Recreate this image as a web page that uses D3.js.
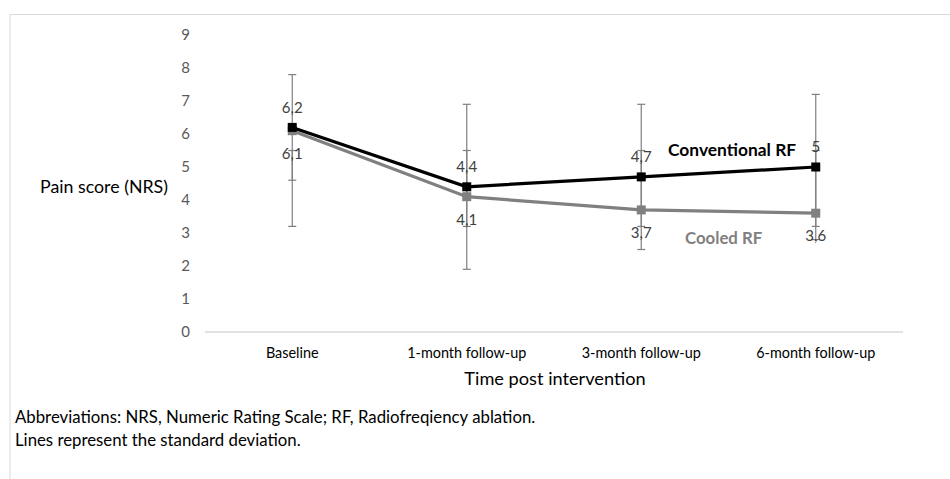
<!DOCTYPE html>
<html>
<head>
<meta charset="utf-8">
<script src="https://cdn.jsdelivr.net/npm/d3@7"></script>
<style>
    body { margin: 0; background: #fff; }
    svg { display: block; font-family: Lato, "Open Sans", sans-serif; }
</style>
</head>
<body>
<svg id="chart" width="950" height="479"></svg>
<script>
// Chart data
const categories = ["Baseline", "1-month follow-up", "3-month follow-up", "6-month follow-up"];
const yTicks = [0, 1, 2, 3, 4, 5, 6, 7, 8, 9];

const conventionalMean = [6.2, 4.4, 4.7, 5.0];
const conventionalLow = [4.6, 1.9, 2.5, 2.8];
const conventionalHigh = [7.8, 6.9, 6.9, 7.2];

const cooledMean = [6.1, 4.1, 3.7, 3.6];
const cooledLow = [3.2, 3.2, 3.2, 3.2];
const cooledHigh = [5.5, 5.5, 5.5, 5.5];

const series = [
    { name: "Conventional RF", mean: conventionalMean, low: conventionalLow, high: conventionalHigh,
      color: "#000000", labelDy: -20 },
    { name: "Cooled RF", mean: cooledMean, low: cooledLow, high: cooledHigh,
      color: "#808080", labelDy: 23 }
];

const svg = d3.select("#chart");

// frame lines (top and left)
svg.append("path")
    .attr("d", "M10,479V14.5H950")
    .attr("fill", "none")
    .attr("stroke", "#d9d9d9")
    .attr("stroke-width", 1);

let xScale = d3.scaleBand()
    .domain(categories)
    .range([205, 903]);

let yScale = d3.scaleLinear()
    .domain([0, 9])
    .range([332, 35]);

const cx = c => xScale(c) + xScale.bandwidth() / 2;

// y tick labels
svg.append("g")
    .selectAll("text")
    .data(yTicks)
    .join("text")
    .attr("x", 190)
    .attr("y", d => yScale(d))
    .attr("dy", "0.35em")
    .attr("text-anchor", "end")
    .attr("font-size", 15)
    .attr("fill", "#595959")
    .text(d => d);

// x axis line
svg.append("line")
    .attr("x1", xScale.range()[0])
    .attr("x2", xScale.range()[1])
    .attr("y1", yScale(0))
    .attr("y2", yScale(0))
    .attr("stroke", "#d9d9d9")
    .attr("stroke-width", 1.5);

// x labels
svg.append("g")
    .selectAll("text")
    .data(categories)
    .join("text")
    .attr("x", d => cx(d))
    .attr("y", 353)
    .attr("dy", "0.35em")
    .attr("text-anchor", "middle")
    .attr("font-size", 14.4)
    .attr("fill", "#000")
    .text(d => d);

// axis titles
svg.append("text")
    .attr("x", 555)
    .attr("y", 379)
    .attr("dy", "0.35em")
    .attr("text-anchor", "middle")
    .attr("font-size", 18.2)
    .text("Time post intervention");

svg.append("text")
    .attr("x", 40)
    .attr("y", 187)
    .attr("dy", "0.35em")
    .attr("font-size", 17.8)
    .text("Pain score (NRS)");

// error bars (drawn beneath the lines)
series.forEach(s => {
    const g = svg.append("g")
        .attr("stroke", "#7f7f7f")
        .attr("stroke-width", 1.2);
    const d = categories.map((c, i) => ({ x: cx(c), lo: s.low[i], hi: s.high[i] }));
    g.selectAll("line.bar")
        .data(d)
        .join("line")
        .attr("class", "bar")
        .attr("x1", e => e.x).attr("x2", e => e.x)
        .attr("y1", e => yScale(e.lo)).attr("y2", e => yScale(e.hi));
    g.selectAll("line.capLo")
        .data(d)
        .join("line")
        .attr("class", "capLo")
        .attr("x1", e => e.x - 4).attr("x2", e => e.x + 4)
        .attr("y1", e => yScale(e.lo)).attr("y2", e => yScale(e.lo));
    g.selectAll("line.capHi")
        .data(d)
        .join("line")
        .attr("class", "capHi")
        .attr("x1", e => e.x - 4).attr("x2", e => e.x + 4)
        .attr("y1", e => yScale(e.hi)).attr("y2", e => yScale(e.hi));
});

// lines and markers, cooled drawn first
let line = d3.line()
    .x((d, i) => cx(categories[i]))
    .y(d => yScale(d));

series.slice().reverse().forEach(s => {
    svg.append("path")
        .datum(s.mean)
        .attr("d", line)
        .attr("fill", "none")
        .attr("stroke", s.color)
        .attr("stroke-width", 3.2);

    svg.append("g")
        .selectAll("rect")
        .data(s.mean)
        .join("rect")
        .attr("x", (d, i) => cx(categories[i]) - 4.5)
        .attr("y", d => yScale(d) - 4.5)
        .attr("width", 9)
        .attr("height", 9)
        .attr("fill", s.color);
});

// data labels
series.forEach(s => {
    svg.append("g")
        .selectAll("text")
        .data(s.mean)
        .join("text")
        .attr("x", (d, i) => cx(categories[i]))
        .attr("y", d => yScale(d) + s.labelDy)
        .attr("dy", "0.35em")
        .attr("text-anchor", "middle")
        .attr("font-size", 15)
        .attr("fill", "#404040")
        .text(d => String(d).replace(".", ","));
});

// series names
svg.append("text")
    .attr("x", 668)
    .attr("y", 150)
    .attr("dy", "0.35em")
    .attr("font-size", 17.4)
    .attr("font-weight", "bold")
    .attr("fill", "#000")
    .text(series[0].name);

svg.append("text")
    .attr("x", 685)
    .attr("y", 238)
    .attr("dy", "0.35em")
    .attr("font-size", 16.8)
    .attr("font-weight", "bold")
    .attr("fill", "#808080")
    .text(series[1].name);

// footnotes
svg.append("text")
    .attr("x", 15)
    .attr("y", 417)
    .attr("dy", "0.35em")
    .attr("font-size", 16.8)
    .text("Abbreviations: NRS, Numeric Rating Scale; RF, Radiofreqiency ablation.");

svg.append("text")
    .attr("x", 15)
    .attr("y", 440)
    .attr("dy", "0.35em")
    .attr("font-size", 16.8)
    .text("Lines represent the standard deviation.");
</script>
</body>
</html>
